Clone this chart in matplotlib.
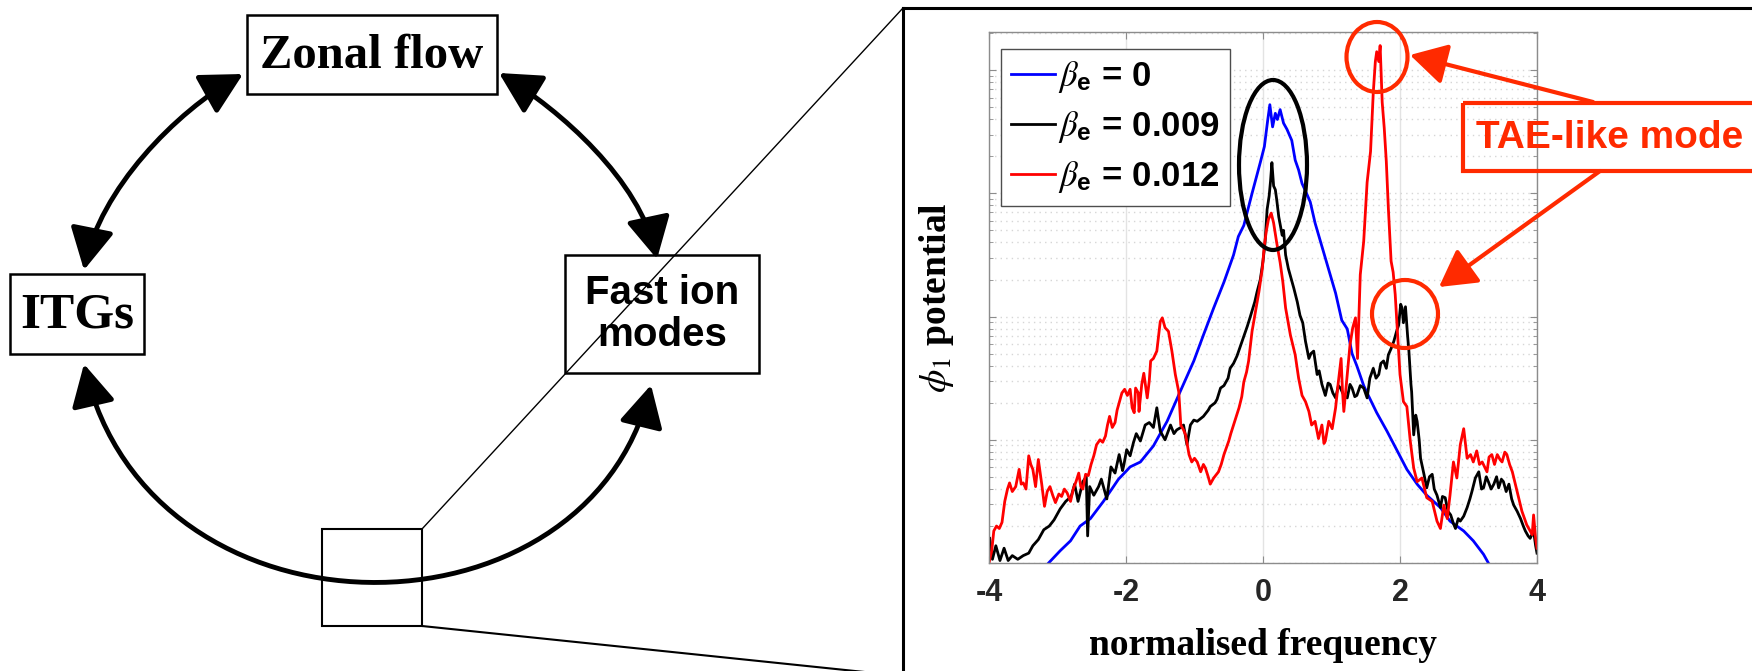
import numpy as np
import matplotlib
matplotlib.use('Agg')
import matplotlib.pyplot as plt
from matplotlib.patches import FancyArrowPatch, Rectangle, Ellipse
from matplotlib.path import Path
from matplotlib.ticker import LogLocator, NullFormatter

plt.rcParams['axes.unicode_minus'] = False
plt.rcParams['mathtext.fontset'] = 'custom'
plt.rcParams['mathtext.it'] = 'STIXGeneral:italic'
plt.rcParams['mathtext.rm'] = 'STIXGeneral'
plt.rcParams['mathtext.bf'] = 'Liberation Sans:bold'

# spectra: normalised frequency vs log10(phi_1 amplitude)
freq_b0 = [-3.13, -2.96, -2.81, -2.67, -2.52, -2.33, -2.11, -1.99, -1.94, -1.79, -1.60, -1.40,
           -1.21, -1.01, -0.87, -0.72, -0.57, -0.43, -0.36, -0.28, -0.16, -0.04, 0.02, 0.07,
           0.10, 0.14, 0.18, 0.21, 0.25, 0.30, 0.35, 0.42, 0.47, 0.52, 0.57, 0.62, 0.69, 0.76,
           0.86, 0.96, 1.06, 1.15, 1.23, 1.30, 1.37, 1.47, 1.52, 1.66, 1.81, 1.96, 2.10, 2.25,
           2.39, 2.59, 2.73, 2.93, 3.07, 3.22, 3.29]
amp_b0 = [0.00, 0.10, 0.18, 0.30, 0.36, 0.50, 0.68, 0.75, 0.78, 0.82, 0.95, 1.15,
          1.39, 1.64, 1.85, 2.07, 2.28, 2.50, 2.65, 2.74, 3.00, 3.25, 3.38, 3.60,
          3.72, 3.54, 3.65, 3.60, 3.68, 3.57, 3.52, 3.43, 3.27, 3.19, 3.08, 3.02, 2.93, 2.76,
          2.57, 2.38, 2.19, 1.97, 1.90, 1.70, 1.60, 1.44, 1.38, 1.22, 1.07, 0.91, 0.76, 0.64,
          0.55, 0.45, 0.34, 0.26, 0.18, 0.07, 0.00]

freq_b9 = [-3.99, -3.95, -3.90, -3.84, -3.78, -3.72, -3.66, -3.58, -3.50, -3.42, -3.36, -3.28,
           -3.20, -3.12, -3.05, -2.96, -2.88, -2.80, -2.75, -2.70, -2.63, -2.58, -2.56, -2.53,
           -2.47, -2.40, -2.36, -2.28, -2.22, -2.16, -2.10, -2.05, -2.03, -1.99, -1.94, -1.89,
           -1.85, -1.79, -1.72, -1.66, -1.60, -1.55, -1.50, -1.43, -1.35, -1.30, -1.26, -1.20,
           -1.16, -1.11, -1.06, -1.01, -0.96, -0.87, -0.80, -0.77, -0.70, -0.67, -0.62, -0.57,
           -0.51, -0.48, -0.43, -0.38, -0.33, -0.28, -0.23, -0.185, -0.12, -0.087, -0.04, 0.00,
           0.03, 0.06, 0.09, 0.11, 0.13, 0.155, 0.18, 0.20, 0.23, 0.28, 0.30, 0.33,
           0.37, 0.40, 0.45, 0.50, 0.54, 0.58, 0.62, 0.67, 0.70, 0.74, 0.79, 0.82,
           0.86, 0.91, 0.95, 0.98, 1.02, 1.06, 1.10, 1.13, 1.18, 1.23, 1.27, 1.30,
           1.34, 1.37, 1.42, 1.47, 1.52, 1.56, 1.61, 1.65, 1.69, 1.72, 1.76, 1.80,
           1.83, 1.87, 1.91, 1.95, 1.98, 2.01, 2.03, 2.05, 2.08, 2.11, 2.13, 2.16,
           2.17, 2.20, 2.23, 2.25, 2.28, 2.30, 2.35, 2.39, 2.43, 2.47, 2.50, 2.54,
           2.59, 2.62, 2.66, 2.70, 2.74, 2.78, 2.81, 2.85, 2.88, 2.93, 2.98, 3.02,
           3.05, 3.10, 3.15, 3.19, 3.22, 3.26, 3.29, 3.33, 3.37, 3.41, 3.44, 3.48,
           3.51, 3.55, 3.59, 3.63, 3.66, 3.71, 3.76, 3.80, 3.83, 3.87, 3.90, 3.95,
           3.98, 4.00]
amp_b9 = [0.20, 0.03, 0.14, 0.02, 0.12, 0.02, 0.06, 0.03, 0.06, 0.08, 0.14, 0.19,
          0.27, 0.30, 0.35, 0.44, 0.50, 0.54, 0.64, 0.50, 0.66, 0.70, 0.22, 0.62,
          0.55, 0.62, 0.68, 0.52, 0.78, 0.73, 0.88, 0.75, 0.80, 0.92, 0.87, 0.98,
          1.05, 0.99, 1.12, 1.14, 1.10, 1.26, 1.07, 1.00, 1.12, 1.05, 1.08, 1.10,
          1.12, 0.96, 1.12, 1.16, 1.15, 1.19, 1.24, 1.27, 1.30, 1.33, 1.42, 1.44,
          1.50, 1.58, 1.62, 1.68, 1.76, 1.84, 1.92, 2.00, 2.12, 2.20, 2.30, 2.45,
          2.60, 2.87, 2.98, 3.10, 3.25, 3.06, 3.03, 2.95, 2.81, 2.66, 2.70, 2.50,
          2.39, 2.33, 2.23, 2.12, 2.01, 1.95, 1.80, 1.66, 1.70, 1.72, 1.53, 1.56,
          1.45, 1.36, 1.46, 1.45, 1.38, 1.34, 1.44, 1.42, 1.36, 1.34, 1.45, 1.42,
          1.35, 1.36, 1.44, 1.42, 1.34, 1.50, 1.58, 1.50, 1.53, 1.62, 1.64, 1.58,
          1.69, 1.74, 1.80, 1.88, 1.93, 2.10, 2.07, 1.95, 2.08, 1.85, 1.72, 1.45,
          1.39, 1.04, 1.20, 1.15, 1.00, 0.85, 0.72, 0.61, 0.70, 0.72, 0.60, 0.55,
          0.45, 0.54, 0.53, 0.42, 0.39, 0.32, 0.28, 0.36, 0.34, 0.38, 0.45, 0.52,
          0.58, 0.69, 0.74, 0.60, 0.61, 0.70, 0.66, 0.60, 0.64, 0.70, 0.61, 0.68,
          0.66, 0.58, 0.64, 0.52, 0.47, 0.42, 0.36, 0.30, 0.26, 0.22, 0.20, 0.26,
          0.14, 0.08]

freq_b12 = [-4.00, -3.96, -3.93, -3.89, -3.85, -3.81, -3.77, -3.73, -3.70, -3.66, -3.61, -3.56,
            -3.53, -3.50, -3.46, -3.42, -3.39, -3.36, -3.32, -3.28, -3.23, -3.19, -3.15, -3.11,
            -3.07, -3.03, -2.98, -2.94, -2.90, -2.86, -2.81, -2.77, -2.73, -2.69, -2.66, -2.63,
            -2.59, -2.55, -2.51, -2.47, -2.43, -2.38, -2.34, -2.30, -2.27, -2.24, -2.20, -2.16,
            -2.13, -2.10, -2.06, -2.02, -1.98, -1.94, -1.91, -1.88, -1.86, -1.82, -1.81, -1.77,
            -1.74, -1.69, -1.66, -1.64, -1.60, -1.55, -1.50, -1.47, -1.43, -1.38, -1.33, -1.28,
            -1.23, -1.20, -1.16, -1.13, -1.08, -1.04, -1.00, -0.96, -0.91, -0.87, -0.84, -0.80,
            -0.77, -0.72, -0.65, -0.61, -0.57, -0.50, -0.47, -0.43, -0.35, -0.31, -0.28, -0.24,
            -0.21, -0.16, -0.11, -0.06, -0.01, 0.02, 0.05, 0.08, 0.12, 0.155, 0.20, 0.25,
            0.29, 0.33, 0.40, 0.47, 0.52, 0.57, 0.62, 0.67, 0.71, 0.76, 0.81, 0.86,
            0.89, 0.91, 0.96, 1.01, 1.06, 1.10, 1.14, 1.16, 1.18, 1.23, 1.27, 1.31,
            1.35, 1.38, 1.42, 1.47, 1.52, 1.57, 1.61, 1.64, 1.66, 1.69, 1.71, 1.74,
            1.77, 1.80, 1.83, 1.87, 1.90, 1.93, 1.97, 2.00, 2.05, 2.10, 2.15, 2.20,
            2.25, 2.32, 2.39, 2.47, 2.54, 2.59, 2.64, 2.69, 2.73, 2.78, 2.83, 2.88,
            2.93, 2.98, 3.03, 3.07, 3.12, 3.16, 3.20, 3.27, 3.30, 3.34, 3.38, 3.42,
            3.46, 3.49, 3.53, 3.56, 3.60, 3.64, 3.71, 3.78, 3.85, 3.90, 3.93, 3.95,
            3.98, 4.00]
amp_b12 = [0.00, 0.10, 0.26, 0.30, 0.28, 0.33, 0.50, 0.60, 0.65, 0.58, 0.62, 0.76,
           0.64, 0.65, 0.60, 0.87, 0.80, 0.76, 0.62, 0.84, 0.64, 0.46, 0.58, 0.62,
           0.55, 0.49, 0.56, 0.54, 0.60, 0.57, 0.50, 0.60, 0.66, 0.73, 0.62, 0.60,
           0.72, 0.71, 0.80, 0.87, 0.96, 1.00, 0.98, 1.03, 1.12, 1.19, 1.10, 1.14,
           1.24, 1.30, 1.38, 1.41, 1.36, 1.41, 1.26, 1.22, 1.42, 1.38, 1.23, 1.45,
           1.54, 1.34, 1.48, 1.64, 1.66, 1.72, 1.96, 1.99, 1.91, 1.88, 1.72, 1.53,
           1.39, 1.12, 1.08, 1.04, 0.88, 0.82, 0.85, 0.82, 0.74, 0.80, 0.77, 0.70,
           0.64, 0.69, 0.74, 0.80, 0.88, 0.99, 1.05, 1.12, 1.26, 1.35, 1.47, 1.55,
           1.64, 1.88, 2.04, 2.20, 2.39, 2.58, 2.70, 2.79, 2.84, 2.76, 2.60, 2.44,
           2.28, 2.07, 1.85, 1.69, 1.50, 1.36, 1.31, 1.23, 1.12, 1.15, 1.01, 1.12,
           0.97, 0.99, 1.15, 1.09, 1.26, 1.47, 1.66, 1.40, 1.23, 1.53, 1.77, 1.91,
           1.99, 1.66, 2.34, 2.61, 3.09, 3.34, 3.82, 4.07, 4.15, 4.07, 4.20, 3.74,
           3.53, 3.26, 2.88, 2.45, 2.36, 2.18, 1.80, 1.53, 1.31, 1.27, 0.99, 0.77,
           0.66, 0.69, 0.53, 0.50, 0.34, 0.28, 0.47, 0.36, 0.55, 0.82, 0.69, 0.96,
           1.09, 0.85, 0.88, 0.82, 0.91, 0.80, 0.82, 0.74, 0.86, 0.88, 0.80, 0.88,
           0.84, 0.82, 0.90, 0.88, 0.80, 0.74, 0.58, 0.42, 0.31, 0.26, 0.23, 0.39,
           0.20, 0.12]

labels = [r'$\beta_\mathbf{e}$ = 0', r'$\beta_\mathbf{e}$ = 0.009', r'$\beta_\mathbf{e}$ = 0.012']
colors = ['#0000ff', '#000000', '#ff0000']
xticks = [-4, -2, 0, 2, 4]

W, H = 1752, 671
fig = plt.figure(figsize=(W / 100, H / 100), dpi=100)

# ---- spectrum panel
ax = fig.add_axes([989 / W, 1 - 563 / H, 548 / W, 531 / H])
series = [(freq_b0, amp_b0), (freq_b9, amp_b9), (freq_b12, amp_b12)]
for (f, a), c, lab in zip(series, colors, labels):
    ax.plot(f, 10 ** np.array(a), color=c, lw=2.0, label=lab)

ax.set_yscale('log')
ax.set_xlim(-4, 4)
ax.set_ylim(1, 10 ** 4.31)
ax.set_xticks(xticks)
ax.set_xticklabels([str(t) for t in xticks], fontfamily='Liberation Sans',
                   fontweight='bold', fontsize=22, color='#262626')
ax.yaxis.set_major_locator(LogLocator(base=10, numticks=10))
ax.yaxis.set_minor_locator(LogLocator(base=10, subs=np.arange(2, 10), numticks=100))
ax.yaxis.set_major_formatter(NullFormatter())
ax.yaxis.set_minor_formatter(NullFormatter())
ax.tick_params(axis='both', which='both', direction='in', top=True, right=True,
               color='#8c8c8c')
ax.tick_params(axis='x', which='major', length=5, pad=11)
ax.tick_params(axis='y', which='major', length=5)
ax.tick_params(axis='y', which='minor', length=3)
ax.grid(True, axis='x', which='major', color='#e3e3e3', lw=1)
ax.grid(True, axis='y', which='both', color='#d6d6d6', lw=1, linestyle=(0, (1, 3)))
for s in ax.spines.values():
    s.set_color('#8c8c8c')
    s.set_linewidth(1)

ax.set_xlabel('normalised frequency', fontfamily='Liberation Serif', fontweight='bold',
              fontsize=27, labelpad=14)
ax.set_ylabel(r'$\phi_1$ potential', fontfamily='Liberation Serif', fontweight='bold',
              fontsize=27, labelpad=20)

leg = ax.legend(loc='upper left', bbox_to_anchor=(0.022, 0.968),
                prop={'family': 'Liberation Sans', 'weight': 'bold', 'size': 25},
                handlelength=1.25, handletextpad=0.1, labelspacing=0.4, borderpad=0.3,
                borderaxespad=0, fancybox=False, framealpha=1)
leg.get_frame().set_edgecolor('#4d4d4d')
leg.get_frame().set_linewidth(1)

# ---- overlay in pixel coordinates: diagram, zoom frame, annotations
ov = fig.add_axes([0, 0, 1, 1])
ov.set_xlim(0, W)
ov.set_ylim(H, 0)
ov.axis('off')
ov.patch.set_alpha(0)

# zoom frame and connecting lines
ov.plot([903, 903], [8, H], color='k', lw=2.2)
ov.plot([903, W], [8, 8], color='k', lw=2.2)
ov.plot([422, 903], [529, 8], color='k', lw=1)
ov.plot([422, 903], [626, 676], color='k', lw=1.5)
ov.add_patch(Rectangle((322, 529), 100, 97, fill=False, ec='k', lw=1.5))

# boxes
box_kw = dict(fill=False, ec='k', lw=1.8)
ov.add_patch(Rectangle((247, 15), 250, 79, **box_kw))
ov.add_patch(Rectangle((10, 274), 134, 80, **box_kw))
ov.add_patch(Rectangle((565, 255), 194, 118, **box_kw))
ov.text(372, 56, 'Zonal flow', ha='center', va='center', fontfamily='Liberation Serif',
        fontweight='bold', fontsize=35)
ov.text(77, 316, 'ITGs', ha='center', va='center', fontfamily='Liberation Serif',
        fontweight='bold', fontsize=37)
ov.text(662, 314, 'Fast ion\nmodes', ha='center', va='center', fontfamily='Liberation Sans',
        fontweight='bold', fontsize=29, linespacing=1.1)

# curved double arrows
def curve_arrow(p0, c1, c2, p1):
    path = Path([p0, c1, c2, p1], [Path.MOVETO, Path.CURVE4, Path.CURVE4, Path.CURVE4])
    ov.add_patch(FancyArrowPatch(path=path, arrowstyle='<|-|>,head_length=0.85,head_width=0.45',
                                 mutation_scale=30, lw=3.5, color='k'))

curve_arrow((243, 74), (175, 112), (100, 190), (84, 270))
curve_arrow((499, 73), (560, 110), (640, 180), (657, 259))
curve_arrow((84, 364), (150, 650), (586, 650), (651, 385))

# annotations on the spectrum
red = '#ff2a00'
ov.add_patch(Ellipse((1273, 165), 68, 170, fill=False, ec='k', lw=3))
ov.add_patch(Ellipse((1377, 57), 61, 70, fill=False, ec=red, lw=3))
ov.add_patch(Ellipse((1405, 314), 66, 68, fill=False, ec=red, lw=3))
ov.add_patch(Rectangle((1463, 103), 300, 68, fill=False, ec=red, lw=3))
ov.text(1476, 138, 'TAE-like mode', ha='left', va='center', color=red,
        fontfamily='Liberation Sans', fontweight='bold', fontsize=28)
arr_kw = dict(arrowstyle='-|>,head_length=0.8,head_width=0.45', mutation_scale=28,
              lw=3, color=red, shrinkA=0, shrinkB=0)
ov.add_patch(FancyArrowPatch((1593, 102), (1410, 55), **arr_kw))
ov.add_patch(FancyArrowPatch((1600, 171), (1439, 287), **arr_kw))

fig.savefig('out.png', dpi=100)
